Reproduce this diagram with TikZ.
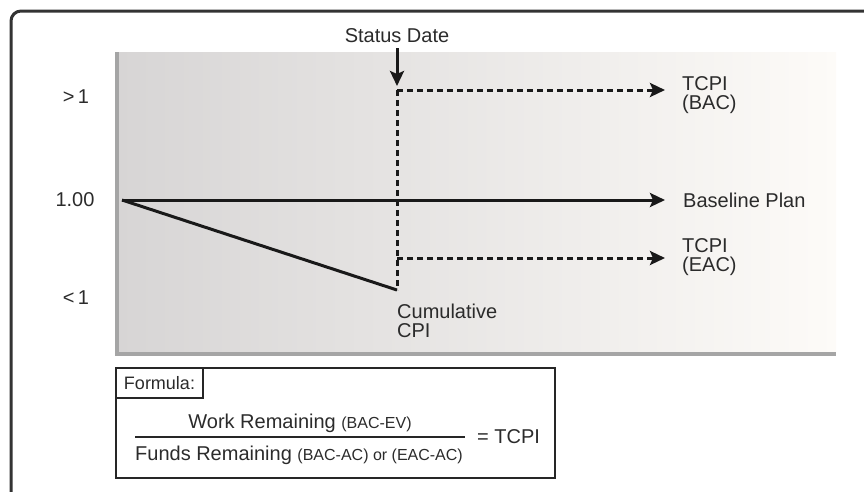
\documentclass[tikz,border=0pt]{standalone}
\usepackage{fontspec}
\setmainfont{Liberation Sans}
\usetikzlibrary{positioning, arrows.meta}
\definecolor{txt}{HTML}{2B2B2B}
\definecolor{axisgray}{HTML}{A5A5A5}
\definecolor{shadeleft}{HTML}{D7D5D5}
\definecolor{shaderight}{HTML}{FDFBF8}
\newcommand{\paren}[1]{{\fontsize{16}{16}\selectfont #1}}

\begin{document}
\begin{tikzpicture}[x=1pt,y=-1pt,
	lbl/.style={text=txt,font=\fontsize{20}{19}\selectfont,align=left,inner sep=0pt},
	tip/.style={-{Stealth[length=15pt,width=14pt,inset=3pt]}},
	planline/.style={line width=3pt,draw=black!90},
	dashline/.style={line width=3pt,draw=black!90,dash pattern=on 6pt off 4pt},
	boxline/.style={draw=black!85,line width=2pt}]
	\useasboundingbox (0,0) rectangle (864,491);
	\clip (0,0) rectangle (864,491);
	\draw[line width=3pt,draw=black!80,rounded corners=10pt] (11,11) rectangle (900,530);
	\shade[left color=shadeleft,right color=shaderight] (117,52) rectangle (836,352);
	\draw[axisgray,line width=4pt] (117,52) -- (117,354) -- (836,354);
	\node[lbl] (status) at (397,36) {Status Date};
	\coordinate (sdtip) at (397,86);
	\coordinate (sdtop) at (397,90);
	\coordinate (start) at (122,200);
	\coordinate (cpi) at (397,290);
	\coordinate (eacfrom) at (397,258);
	\node[lbl] (gt) at (76,97) {>\,1};
	\node[lbl] (one) at (75,200) {1.00};
	\node[lbl] (lt) at (76,298) {<\,1};
	\node[lbl,anchor=west] (bac) at (682,95) {TCPI\\(BAC)};
	\node[lbl,anchor=west] (plan) at (683,200) {Baseline Plan};
	\node[lbl,anchor=west] (eac) at (682,257) {TCPI\\(EAC)};
	\node[lbl,anchor=north west] (cumcpi) at (397,304) {Cumulative\\CPI};
	\draw[planline,tip,shorten <=5pt] (status.south) -- (sdtip);
	\draw[dashline] (sdtop) -- (cpi);
	\draw[dashline,tip,shorten >=17pt] (sdtop) -- (sdtop -| bac.west);
	\draw[dashline,tip,shorten >=17pt] (eacfrom) -- (eacfrom -| eac.west);
	\draw[planline,tip,shorten >=18pt] (start) -- (plan.west);
	\draw[planline] (start) -- (cpi);
	\node[boxline,anchor=north west,minimum width=439pt,minimum height=110pt] (fbox) at (115,367) {};
	\node[boxline,anchor=north west,minimum width=87pt,minimum height=30pt,text=txt,font=\fontsize{18}{18}\selectfont] (flabel) at (fbox.north west) {Formula:};
	\node[lbl] (num) at (300,423) {Work Remaining \paren{(BAC-EV)}};
	\node[lbl] (den) at (299,455) {Funds Remaining \paren{(BAC-AC) or (EAC-AC)}};
	\coordinate (fl) at (135,437);
	\coordinate (fr) at (465,437);
	\draw[line width=2pt,draw=black!85] (fl) -- (fr);
	\node[lbl,anchor=west] (eq) at (477,437) {= TCPI};
\end{tikzpicture}
\end{document}
